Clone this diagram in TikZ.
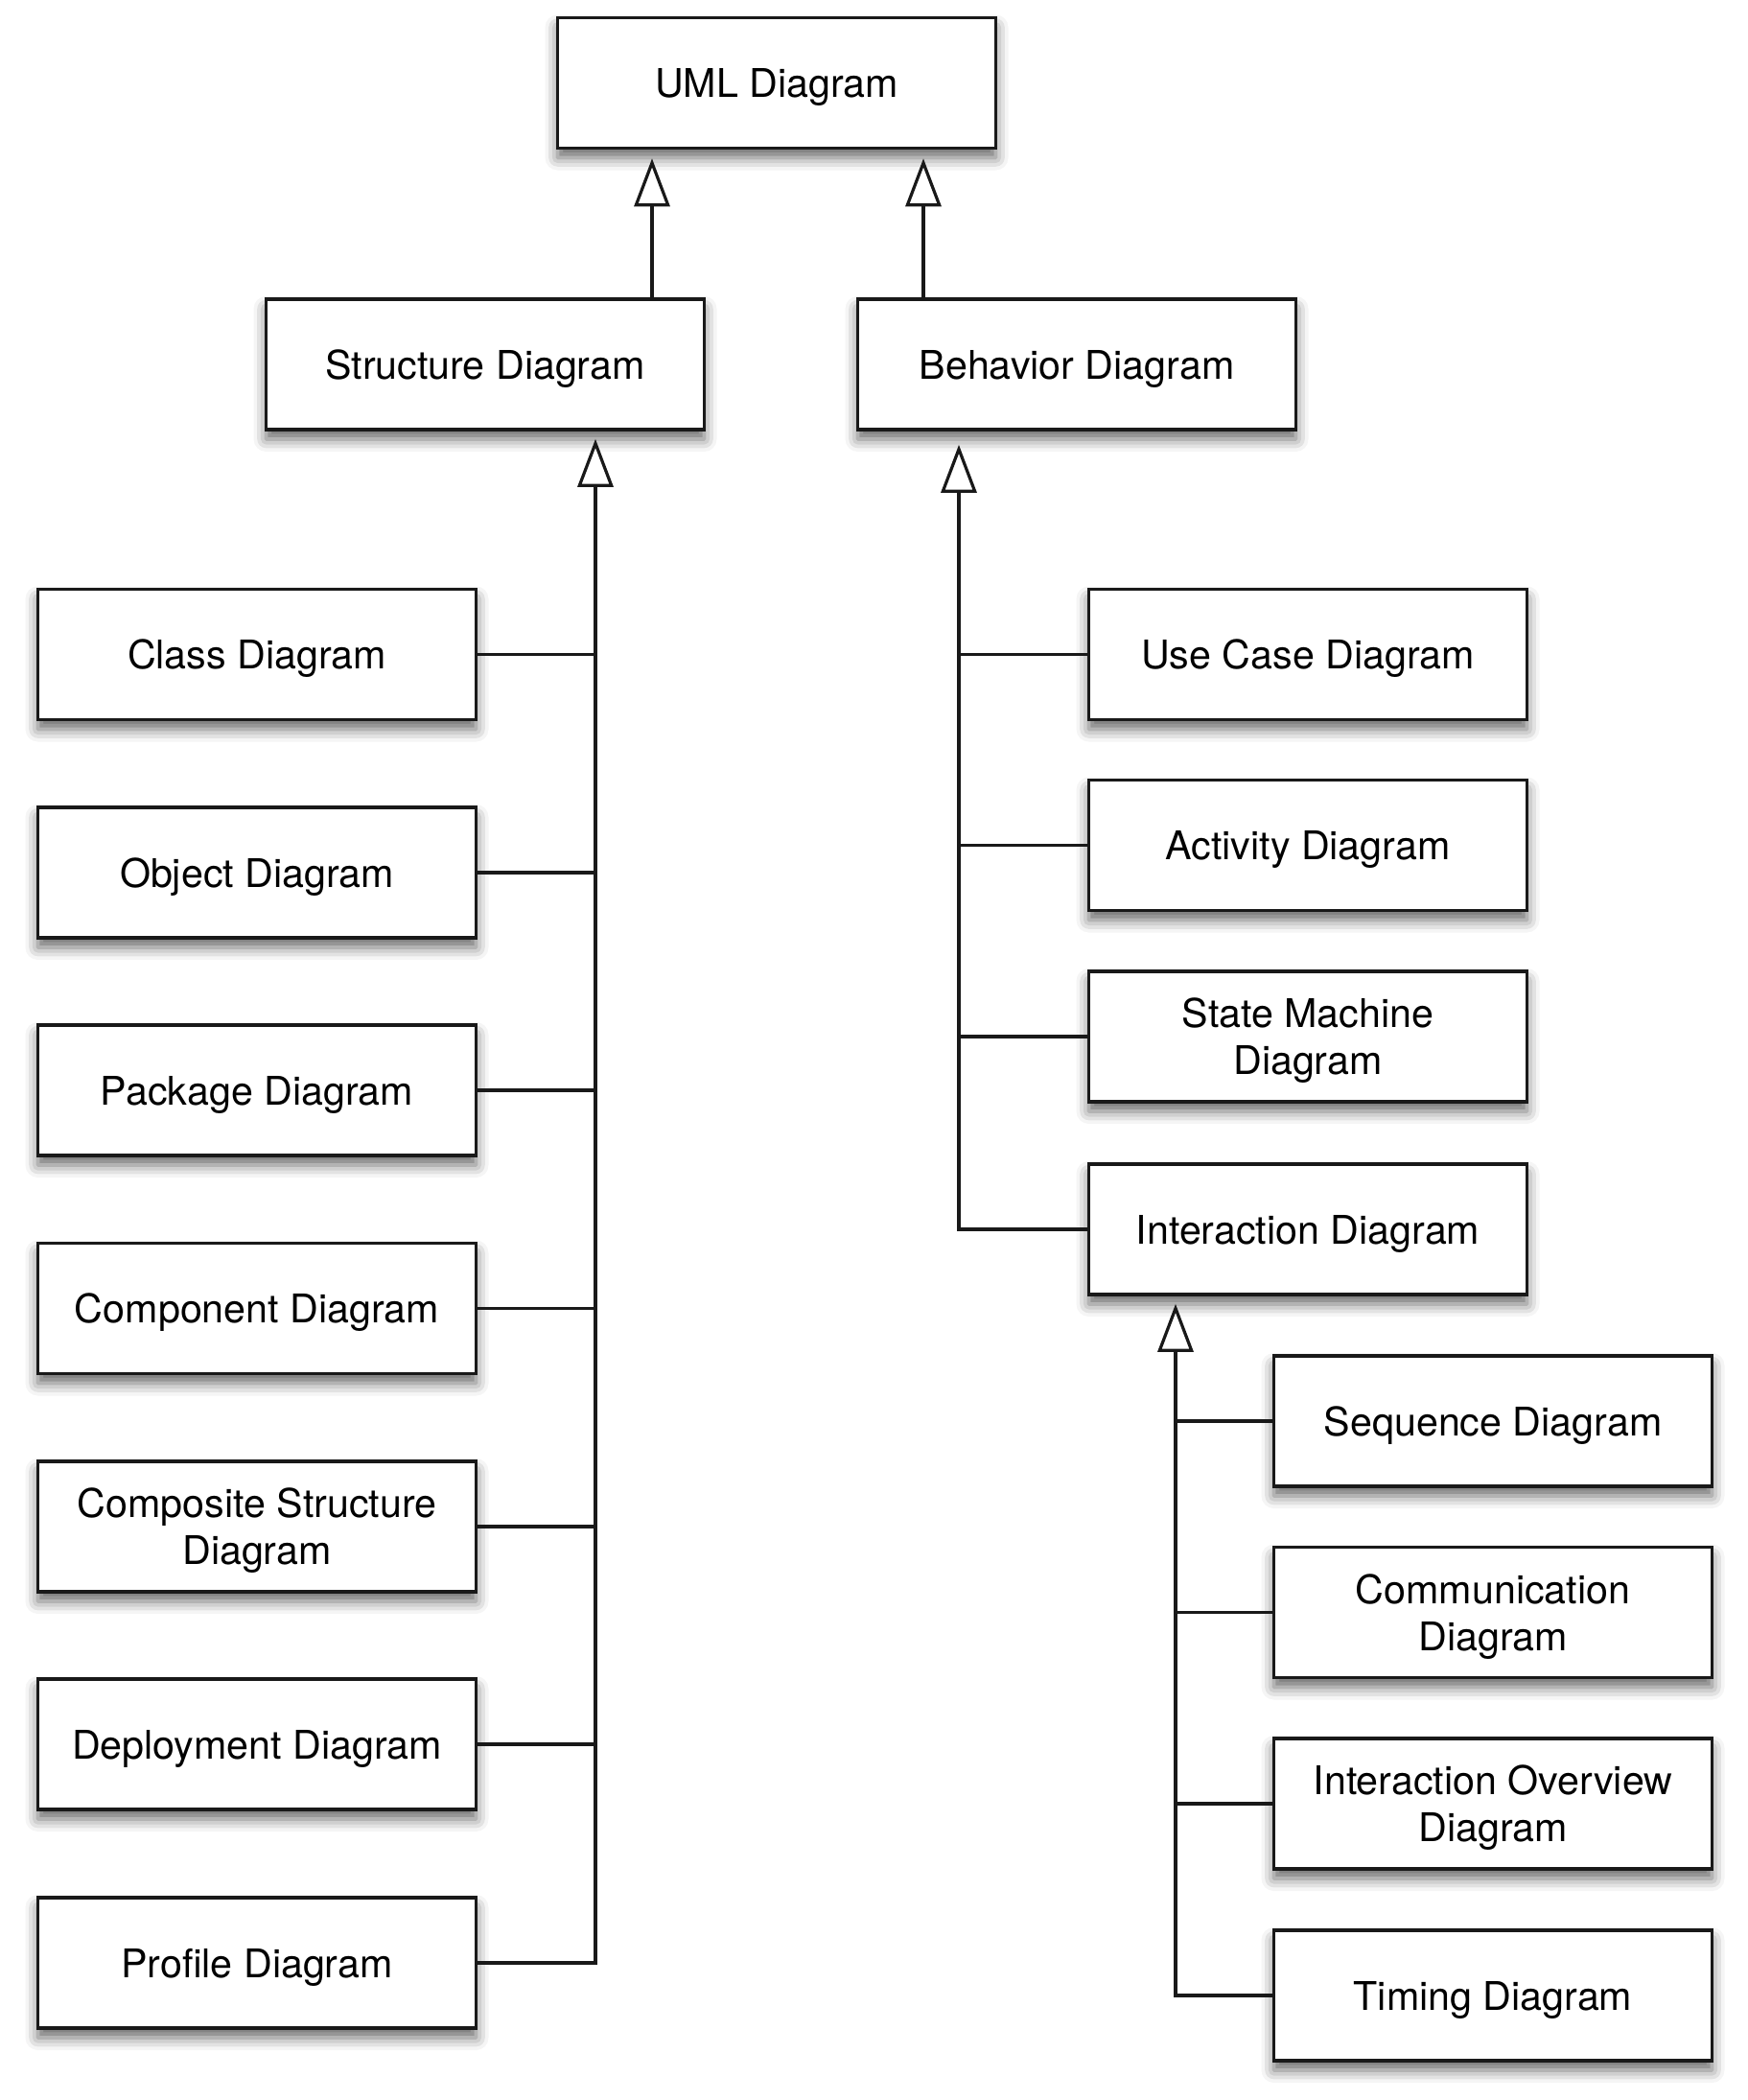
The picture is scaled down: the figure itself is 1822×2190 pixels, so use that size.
\documentclass[tikz,border=0pt]{standalone}
\usepackage{fontspec}
\setmainfont{TeX Gyre Heros}
\usetikzlibrary{arrows.meta,shadows.blur}
\begin{document}
\begin{tikzpicture}[x=0.5pt,y=-0.5pt,
  box/.style={draw=black!90, line width=1.8pt, fill=white,
    minimum width=228.5pt, minimum height=68pt, inner sep=0pt, align=center,
    text depth=0pt,
    font=\fontsize{20.6}{24.5}\selectfont,
    blur shadow={shadow xshift=0pt, shadow yshift=-5pt, shadow blur radius=6.5pt, shadow opacity=60}},
  link/.style={line width=1.6pt, draw=black!90},
  inh/.style={link, -{Triangle[open, length=25pt, width=18.5pt, fill=white]}},
]
\useasboundingbox (0,0) rectangle (1822,2190);

% top
\node[box] (uml) at (810,86.5) {UML Diagram};
\node[box] (str) at (506,380) {Structure Diagram};
\node[box] (beh) at (1123,380) {Behavior Diagram};

% structure children
\node[box] (class) at (268,682.5) {Class Diagram};
\node[box] (object) at (268,910) {Object Diagram};
\node[box] (package) at (268,1137) {Package Diagram};
\node[box] (component) at (268,1364.5) {Component Diagram};
\node[box] (composite) at (268,1592) {Composite Structure\\Diagram};
\node[box] (deploy) at (268,1819) {Deployment Diagram};
\node[box] (profile) at (268,2047) {Profile Diagram};

% behavior children
\node[box] (usecase) at (1364,682.5) {Use Case Diagram};
\node[box] (activity) at (1364,881.5) {Activity Diagram};
\node[box] (state) at (1364,1081) {State Machine\\Diagram};
\node[box] (inter) at (1364,1282) {Interaction Diagram};

% interaction children
\node[box] (seq) at (1557,1482) {Sequence Diagram};
\node[box] (comm) at (1557,1681.5) {Communication\\Diagram};
\node[box] (overview) at (1557,1881) {Interaction Overview\\Diagram};
\node[box] (timing) at (1557,2081) {Timing Diagram};

% bus coordinates
\coordinate (a1) at (680,0);
\coordinate (a2) at (963,0);
\coordinate (sv) at (621,0);
\coordinate (bv) at (1000,0);
\coordinate (iv) at (1226,0);

% generalisations to UML
\draw[inh, shorten >=4.5pt] (a1 |- str.north) -- (a1 |- uml.south);
\draw[inh, shorten >=4.5pt] (a2 |- beh.north) -- (a2 |- uml.south);

% structure bus
\draw[inh, shorten >=4pt] (profile.east) -| (sv |- str.south);
\foreach \n in {class,object,package,component,composite,deploy}
  \draw[link] (\n.east) -- (\n.east -| sv);

% behavior bus
\draw[inh, shorten >=7pt] (inter.west) -| (bv |- beh.south);
\foreach \n in {usecase,activity,state}
  \draw[link] (\n.west) -- (\n.west -| bv);

% interaction bus
\draw[inh, shorten >=4pt] (timing.west) -| (iv |- inter.south);
\foreach \n in {seq,comm,overview}
  \draw[link] (\n.west) -- (\n.west -| iv);
\end{tikzpicture}
\end{document}
